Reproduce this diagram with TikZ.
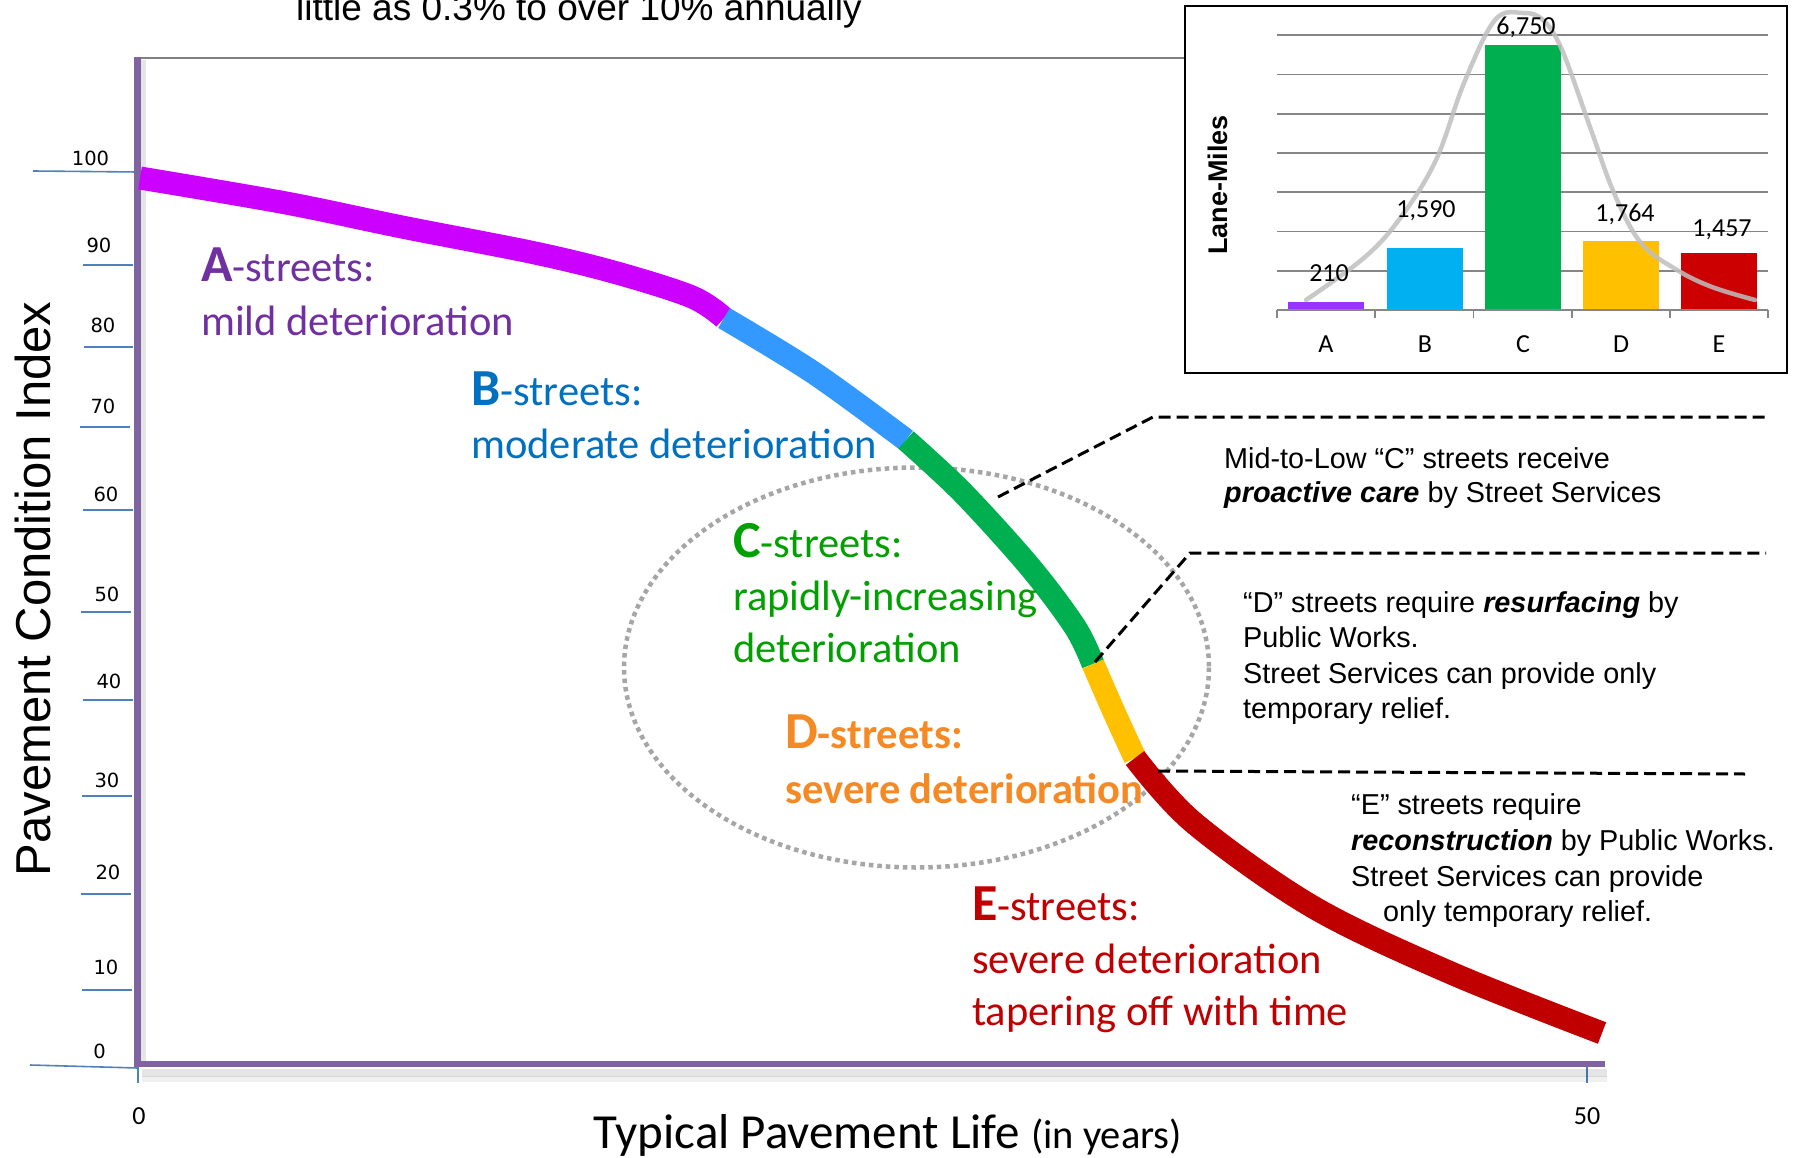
\documentclass[tikz,border=0pt]{standalone}
\usepackage{fontspec}
\setmainfont{Liberation Sans}
\newfontfamily\calib{Carlito}
\newfontfamily\dvs{DejaVu Sans}
\definecolor{axpurple}{HTML}{8064A2}
\definecolor{tickblue}{HTML}{4F81BD}
\definecolor{cA}{HTML}{CC00FF}
\definecolor{cB}{HTML}{3399FF}
\definecolor{cC}{HTML}{00B050}
\definecolor{cD}{HTML}{FFC000}
\definecolor{cE}{HTML}{C00000}
\definecolor{tA}{HTML}{7030A0}
\definecolor{tB}{HTML}{0070C0}
\definecolor{tC}{HTML}{00A000}
\definecolor{tD}{HTML}{F58A25}
\definecolor{tE}{HTML}{C00000}
\definecolor{barA}{HTML}{9933FF}
\definecolor{barB}{HTML}{00B0F0}
\definecolor{barC}{HTML}{00B050}
\definecolor{barD}{HTML}{FFC000}
\definecolor{barE}{HTML}{CC0000}
\definecolor{gridg}{HTML}{868686}
\newcommand{\slf}{\calib\fontsize{42.5}{50}\selectfont}
\newcommand{\slbig}[1]{{\fontsize{52}{56}\selectfont\bfseries #1}}
\begin{document}
\begin{tikzpicture}[x=1pt,y=-1pt,
  seg/.style={line width=23pt, line cap=butt},
  ytk/.style={draw=tickblue, line width=1.6pt},
  ylab/.style={font=\dvs\fontsize{19.5}{19.5}\selectfont, anchor=base, inner sep=0pt},
  slab/.style={font=\slf, anchor=base west, inner sep=0pt},
  rtxt/.style={font=\fontsize{28.8}{34}\selectfont, anchor=base west, inner sep=0pt},
  lead/.style={draw=black, line width=3pt, dash pattern=on 12pt off 6pt},
  grid/.style={draw=gridg, line width=1.8pt},
  vlab/.style={font=\calib\fontsize{26}{26}\selectfont, anchor=base, inner sep=0pt},
  bar/.style={draw=none}]
\useasboundingbox (0,0) rectangle (1798,1158);
\fill[white] (0,0) rectangle (1798,1158);

% top caption (cut at the top edge, as in the reference)
\node[font=\fontsize{37}{40}\selectfont, anchor=base west, inner sep=0pt] (cap) at (296,21) {little as 0.3\% to over 10\% annually};

% top gray border
\draw[gray, line width=2.5pt] (138,58) -- (1185,58);

% y ticks
\draw[ytk] (33,171) -- (138,172);
\draw[ytk] (83,265) -- (133,265);
\draw[ytk] (84,347) -- (133,347);
\draw[ytk] (80,427) -- (130,427);
\draw[ytk] (83,510) -- (133,510);
\draw[ytk] (81,612) -- (131,612);
\draw[ytk] (83,700) -- (133,700);
\draw[ytk] (82,796) -- (132,796);
\draw[ytk] (81,894) -- (131,894);
\draw[ytk] (82,990) -- (132,990);
\draw[ytk] (30,1065) -- (138,1068);
\node[ylab] (y100) at (90.5,166) {100};
\node[ylab] (y90) at (99,253) {90};
\node[ylab] (y80) at (103,332) {80};
\node[ylab] (y70) at (103,413) {70};
\node[ylab] (y60) at (106,501) {60};
\node[ylab] (y50) at (107,601) {50};
\node[ylab] (y40) at (109,688) {40};
\node[ylab] (y30) at (107,787) {30};
\node[ylab] (y20) at (108,879) {20};
\node[ylab] (y10) at (106,974) {10};
\node[ylab] (y0) at (99.5,1058) {0};

% x ticks
\draw[ytk] (138,1067) -- (138,1083);
\draw[ytk] (1587,1067) -- (1587,1083);
\node[vlab] (x0) at (139,1124) {0};
\node[vlab] (x50) at (1587,1124) {50};

% axes with shadow
\draw[black, opacity=0.10, line width=8pt] (142,1073) -- (1607,1073);
\draw[black, opacity=0.06, line width=6pt] (142,1079) -- (1607,1079);
\draw[black, opacity=0.10, line width=5pt] (143,60) -- (143,1066);
\draw[axpurple, line width=7pt] (137,57) -- (137,1067);
\draw[axpurple, line width=6.5pt] (134,1064) -- (1605,1064);

% axis titles
\node[font=\fontsize{49}{52}\selectfont, rotate=90, anchor=base, inner sep=0pt] (ytitle) at (50,589) {Pavement Condition Index};
\node[font=\calib, anchor=base, inner sep=0pt] (xtitle) at (888,1148) {\fontsize{49}{52}\selectfont Typical Pavement Life \fontsize{40.5}{42}\selectfont(in years)};

% dotted ellipse
\draw[draw=black!35, line width=4.5pt, dash pattern=on 4.5pt off 4pt] (916.5,667.5) ellipse [x radius=292.5, y radius=200];

% curve
\draw[seg, cA] plot[smooth, tension=0.55] coordinates {(140,178) (286,203) (402,227) (535,253) (617,273) (692,297) (724,318)};
\draw[seg, cB] plot[smooth, tension=0.55] coordinates {(724,318) (814,373) (906,440)};
\draw[seg, cC] plot[smooth, tension=0.55] coordinates {(906,440) (963,493) (1030,567) (1075,627) (1093,664)};
\draw[seg, cD] plot[smooth, tension=0.55] coordinates {(1093,664) (1114,712) (1135,758)};
\draw[seg, cE] plot[smooth, tension=0.55] coordinates {(1135,758) (1194,823) (1313,907) (1451,973) (1602,1033)};

% street labels
\node[slab, text=tA] (a1) at (201,281) {\slbig{A}-streets:};
\node[slab, text=tA] (a2) at (201,335) {mild deterioration};
\node[slab, text=tB] (b1) at (471,405) {\slbig{B}-streets:};
\node[slab, text=tB] (b2) at (471,458) {moderate deterioration};
\node[slab, text=tC] (c1) at (733,557) {\slbig{C}-streets:};
\node[slab, text=tC] (c2) at (733,610) {rapidly-increasing};
\node[slab, text=tC] (c3) at (733,662) {deterioration};
\node[slab, text=tD, font=\slf\bfseries] (d1) at (785,748) {\slbig{D}-streets:};
\node[slab, text=tD, font=\slf\bfseries] (d2) at (785,803) {severe deterioration};
\node[slab, text=tE] (e1) at (972,920) {\slbig{E}-streets:};
\node[slab, text=tE] (e2) at (972,973) {severe deterioration};
\node[slab, text=tE] (e3) at (972,1025) {tapering off with time};

% leader lines
\coordinate (pC) at (998,497);
\coordinate (kC) at (1153,417);
\coordinate (eC) at (1766,417);
\coordinate (pD) at (1095,662);
\coordinate (kD) at (1190,553);
\coordinate (eD) at (1766,553);
\coordinate (pE) at (1158,771);
\coordinate (eE) at (1745,774);
\draw[lead] (pC) -- (kC) -- (eC);
\draw[lead] (pD) -- (kD) -- (eD);
\draw[lead] (pE) -- (eE);

% right texts
\node[rtxt] (tc1) at (1224,468) {Mid-to-Low “C” streets receive};
\node[rtxt] (tc2) at (1224,502) {\textbf{\textit{proactive care}} by Street Services};
\node[rtxt] (td1) at (1243,612) {“D” streets require \textbf{\textit{resurfacing}} by};
\node[rtxt] (td2) at (1243,647) {Public Works.};
\node[rtxt] (td3) at (1243,683) {Street Services can provide only};
\node[rtxt] (td4) at (1243,718) {temporary relief.};
\node[rtxt] (te1) at (1351,814) {“E” streets require};
\node[rtxt] (te2) at (1351,850) {\textbf{\textit{reconstruction}} by Public Works.};
\node[rtxt] (te3) at (1351,886) {Street Services can provide};
\node[rtxt] (te4) at (1383,921) {only temporary relief.};

% inset chart
\draw[black, line width=2.2pt, fill=white] (1185,6) rectangle (1787,373);
\foreach \g in {1,...,7} {\draw[grid] (1277,{310-39.26*\g}) -- (1768,{310-39.26*\g});}
\fill[barA] (1288,{310-0.03926*210}) rectangle (1364,310);
\fill[barB] (1387,{310-0.03926*1590}) rectangle (1463,310);
\fill[barC] (1485,{310-0.03926*6750}) rectangle (1561,310);
\fill[barD] (1583,{310-0.03926*1764}) rectangle (1659,310);
\fill[barE] (1681,{310-0.03926*1457}) rectangle (1757,310);
\draw[grid] (1277,310) -- (1768,310);
\foreach \t in {0,...,5} {\draw[grid] ({1277+98.2*\t},310) -- ({1277+98.2*\t},318);}
\draw[black!25, opacity=0.85, line width=4.5pt, line cap=round] plot[smooth, tension=0.6] coordinates {(1306,300) (1365,257) (1401,217) (1436,160) (1464,83) (1495,20) (1523,13) (1543,20) (1562,50) (1590,127) (1614,193) (1641,243) (1677,270) (1712,287) (1755,300)};
\node[vlab] (vA) at (1329,282) {210};
\node[vlab] (vB) at (1426,218) {1,590};
\node[vlab] (vC) at (1526,35) {6,750};
\node[vlab] (vD) at (1625,222) {1,764};
\node[vlab] (vE) at (1722,237) {1,457};
\node[vlab] (kA) at (1326,352) {A};
\node[vlab] (kB) at (1425,352) {B};
\node[vlab] (kCc) at (1523,352) {C};
\node[vlab] (kDd) at (1621,352) {D};
\node[vlab] (kE) at (1719,352) {E};
\node[font=\fontsize{27}{30}\selectfont\bfseries, rotate=90, anchor=base, inner sep=0pt] (lm) at (1227,185) {Lane-Miles};
\end{tikzpicture}
\end{document}
